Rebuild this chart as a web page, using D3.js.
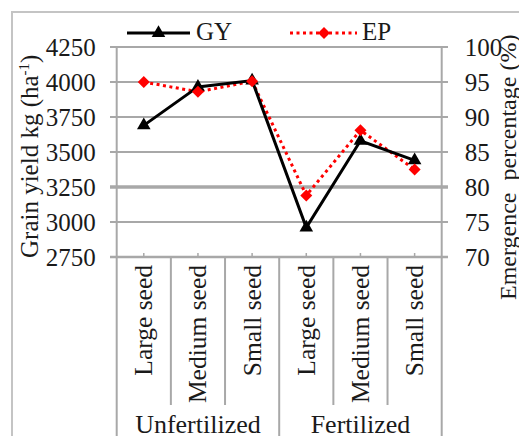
<!DOCTYPE html>
<html><head><meta charset="utf-8">
<script src="https://cdn.jsdelivr.net/npm/d3@7"></script>
<style>body{margin:0;background:#fff}svg{display:block}</style>
</head><body>
<svg id="c" width="519" height="436"></svg>
<script>
const categories = ["Large seed","Medium seed","Small seed","Large seed","Medium seed","Small seed"];
const groups = ["Unfertilized","Fertilized"];
const gyValues = [3690, 3965, 4010, 2960, 3580, 3440];
const epValues = [95.0, 93.6, 95.1, 78.8, 88.1, 82.5];
const leftTicks = [2750, 3000, 3250, 3500, 3750, 4000, 4250];
const rightTicks = [70, 75, 80, 85, 90, 95, 100];

const FONT = "Liberation Serif";
const INK = "#1a1a1a";
const svg = d3.select("#c");
const L = 116.7, R = 441.7, T = 47, B = 257;
const x = d3.scaleBand().domain(d3.range(categories.length)).range([L, R]);
const yL = d3.scaleLinear().domain([2750, 4250]).range([B, T]);
const yR = d3.scaleLinear().domain([70, 100]).range([B, T]);
const grid = "#a8a8a8";

// outer frame
svg.append("path").attr("d", "M12,436V12H519").attr("fill","none").attr("stroke","#c4c4c4").attr("stroke-width",2);

// gridlines
svg.append("g").selectAll("line").data(leftTicks).join("line")
  .attr("x1", 110).attr("x2", 448).attr("y1", d => yL(d)).attr("y2", d => yL(d))
  .attr("stroke", grid).attr("stroke-width", d => d === 3250 ? 3.5 : 2);

// axes
const axL = svg.append("g").attr("transform", `translate(${L},0)`).attr("font-family", FONT)
  .call(d3.axisLeft(yL).tickValues(leftTicks).tickFormat(d3.format("d")).tickSize(0).tickPadding(21));
axL.attr("font-family", FONT);
axL.select(".domain").remove();
axL.selectAll("text").style("font-size", "25px");
const axR = svg.append("g").attr("transform", `translate(${R},0)`)
  .call(d3.axisRight(yR).tickValues(rightTicks).tickFormat(d3.format("d")).tickSize(0).tickPadding(23));
axR.attr("font-family", FONT);
axR.select(".domain").remove();
axR.selectAll("text").style("font-size", "25px");

// vertical axis lines
svg.append("line").attr("x1", L).attr("x2", L).attr("y1", T).attr("y2", 436).attr("stroke", grid).attr("stroke-width", 2);
svg.append("line").attr("x1", R).attr("x2", R).attr("y1", T).attr("y2", 436).attr("stroke", grid).attr("stroke-width", 2);
// bottom axis line
svg.append("line").attr("x1", 110).attr("x2", 448).attr("y1", B).attr("y2", B).attr("stroke", grid).attr("stroke-width", 2.5);

// category separators
const bw = x.bandwidth();
svg.append("g").selectAll("line").data(d3.range(1, categories.length)).join("line")
  .attr("x1", d => L + d * bw).attr("x2", d => L + d * bw)
  .attr("y1", B).attr("y2", d => d % 3 === 0 ? 436 : 405)
  .attr("stroke", grid).attr("stroke-width", 2);
// small ticks at category centres
svg.append("g").selectAll("line").data(d3.range(categories.length)).join("line")
  .attr("x1", (d) => x(d) + bw / 2).attr("x2", (d) => x(d) + bw / 2)
  .attr("y1", B - 4).attr("y2", B).attr("stroke", grid).attr("stroke-width", 1.5);

// category labels
svg.append("g").selectAll("text").data(categories).join("text")
  .attr("transform", (d, i) => `translate(${x(i) + bw / 2},265) rotate(-90)`)
  .attr("text-anchor", "end").attr("dy", "0.33em").style("font-size", "25.5px")
  .text(d => d);
// group labels
svg.append("g").selectAll("text").data(groups).join("text")
  .attr("x", (d, i) => L + (i * 3 + 1.5) * bw).attr("y", 433)
  .attr("text-anchor", "middle").style("font-size", "26px").text(d => d);

// axis titles
const lt = svg.append("text").attr("transform", "translate(38,258) rotate(-90)")
  .style("font-size", "25px");
lt.append("tspan").text("Grain yield kg (ha");
lt.append("tspan").style("font-size", "15px").attr("dy", -9).text("-1");
lt.append("tspan").attr("dy", 9).text(")");
svg.append("text").attr("transform", "translate(516,300) rotate(-90)")
  .style("font-size", "24px").style("white-space", "pre").text("Emergence  percentage (%)");

// series
const lineGY = d3.line().x((d, i) => x(i) + bw / 2).y(d => yL(d));
const lineEP = d3.line().x((d, i) => x(i) + bw / 2).y(d => yR(d));
svg.append("path").datum(epValues).attr("d", lineEP).attr("fill", "none")
  .attr("stroke", "#ff0000").attr("stroke-width", 3).attr("stroke-dasharray", "3,3.5");
svg.append("path").datum(gyValues).attr("d", lineGY).attr("fill", "none")
  .attr("stroke", "#000").attr("stroke-width", 3);
const tri = d3.symbol().type(d3.symbolTriangle).size(80);
const dia = d3.symbol().type(d3.symbolSquare).size(72);
svg.append("g").selectAll("path").data(gyValues).join("path")
  .attr("d", tri).attr("fill", "#000")
  .attr("transform", (d, i) => `translate(${x(i) + bw / 2},${yL(d)})`);
svg.append("g").selectAll("path").data(epValues).join("path")
  .attr("d", dia).attr("fill", "#ff0000")
  .attr("transform", (d, i) => `translate(${x(i) + bw / 2},${yR(d)}) rotate(45)`);

// legend
const lg = svg.append("g");
lg.append("line").attr("x1", 127).attr("x2", 190).attr("y1", 33).attr("y2", 33).attr("stroke", "#000").attr("stroke-width", 3);
lg.append("path").attr("d", tri).attr("fill", "#000").attr("transform", "translate(158.5,33)");
lg.append("text").attr("x", 196).attr("y", 40).style("font-size", "25px").text("GY");
lg.append("line").attr("x1", 290).attr("x2", 357).attr("y1", 33).attr("y2", 33).attr("stroke", "#ff0000").attr("stroke-width", 3).attr("stroke-dasharray", "3,3.5");
lg.append("path").attr("d", dia).attr("fill", "#ff0000").attr("transform", "translate(324,33) rotate(45)");
lg.append("text").attr("x", 362).attr("y", 40).style("font-size", "25px").text("EP");

// typography for every text
svg.selectAll("text").style("font-family", FONT).style("fill", INK);
</script>
</body></html>
